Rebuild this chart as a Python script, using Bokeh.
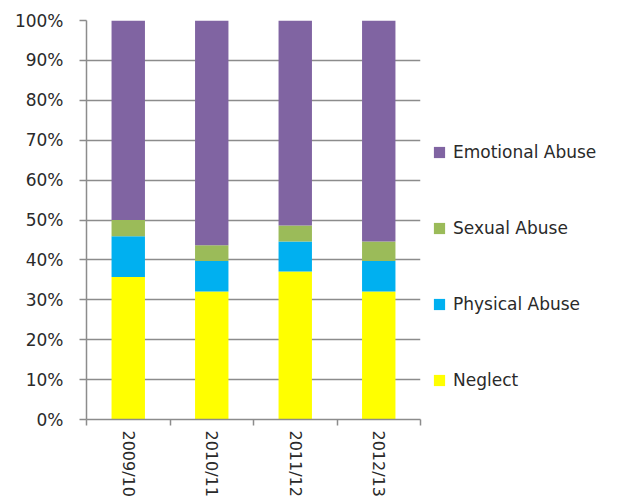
import math
from bokeh.plotting import figure
from bokeh.models import (ColumnDataSource, FixedTicker, PrintfTickFormatter, Range1d,
                          Legend, LegendItem)
from bokeh.embed import file_html
from bokeh.resources import INLINE

categories = ["2009/10", "2010/11", "2011/12", "2012/13"]
series = ["Neglect", "Physical Abuse", "Sexual Abuse", "Emotional Abuse"]
neglect = [35.7, 32.1, 37.1, 32.1]
physical = [10.2, 7.6, 7.5, 7.6]
sexual = [4.1, 4.0, 4.0, 4.9]
emotional = [50.0, 56.3, 51.4, 55.4]
colors = ["#FFFF00", "#00B0F0", "#9BBB59", "#8064A2"]
y_ticks = [0, 10, 20, 30, 40, 50, 60, 70, 80, 90, 100]

xs = [i + 0.5 for i in range(len(categories))]
source = ColumnDataSource(dict(x=xs, **{
    "Neglect": neglect, "Physical Abuse": physical,
    "Sexual Abuse": sexual, "Emotional Abuse": emotional}))

FONT = "DejaVu Sans"
TXT = "#2a2a2a"
GRID = "#8c8c8c"

p = figure(frame_width=334, frame_height=399, output_backend="svg", toolbar_location=None,
           x_range=Range1d(0, len(categories)), y_range=Range1d(0, 100),
           min_border_left=86, min_border_right=0, min_border_top=20, min_border_bottom=0)
p.outline_line_color = None
p.xgrid.grid_line_color = None
p.ygrid.grid_line_color = GRID
p.ygrid.grid_line_width = 1.5

renderers = p.vbar_stack(series, x="x", width=0.4, color=colors, source=source, line_color=None)

# y axis
p.yaxis.ticker = FixedTicker(ticks=y_ticks)
p.yaxis.formatter = PrintfTickFormatter(format="%d%%")
p.yaxis.axis_line_color = GRID
p.yaxis.axis_line_width = 1.5
p.yaxis.major_tick_line_color = GRID
p.yaxis.major_tick_line_width = 1.5
p.yaxis.major_tick_out = 7
p.yaxis.major_tick_in = 0
p.yaxis.minor_tick_line_color = None
p.yaxis.major_label_standoff = 16
p.yaxis.major_label_text_font = FONT
p.yaxis.major_label_text_font_size = "17px"
p.yaxis.major_label_text_color = TXT

# x axis: labels at centres, ticks at boundaries
p.xaxis.ticker = FixedTicker(ticks=xs, minor_ticks=list(range(len(categories) + 1)))
p.xaxis.major_label_overrides = {x: c for x, c in zip(xs, categories)}
p.xaxis.major_label_orientation = -math.pi / 2
p.xaxis.axis_line_color = GRID
p.xaxis.axis_line_width = 1.5
p.xaxis.major_tick_line_color = None
p.xaxis.major_tick_out = 6
p.xaxis.minor_tick_line_color = GRID
p.xaxis.minor_tick_line_width = 1.5
p.xaxis.minor_tick_out = 6
p.xaxis.minor_tick_in = 0
p.xaxis.major_label_standoff = 5
p.xaxis.major_label_text_font = FONT
p.xaxis.major_label_text_font_size = "16px"
p.xaxis.major_label_text_color = TXT

items = [LegendItem(label=s, renderers=[r]) for s, r in zip(series, renderers)][::-1]
legend = Legend(items=items, location=(12, 29))
legend.background_fill_alpha = 0
legend.border_line_alpha = 0
legend.padding = 0
legend.margin = 0
legend.spacing = 56
legend.glyph_width = 14
legend.glyph_height = 14
legend.label_height = 20
legend.label_standoff = 7
legend.label_text_font = FONT
legend.label_text_font_size = "17px"
legend.label_text_color = TXT
p.add_layout(legend, "right")

open("out.html", "w").write(file_html(p, INLINE))
